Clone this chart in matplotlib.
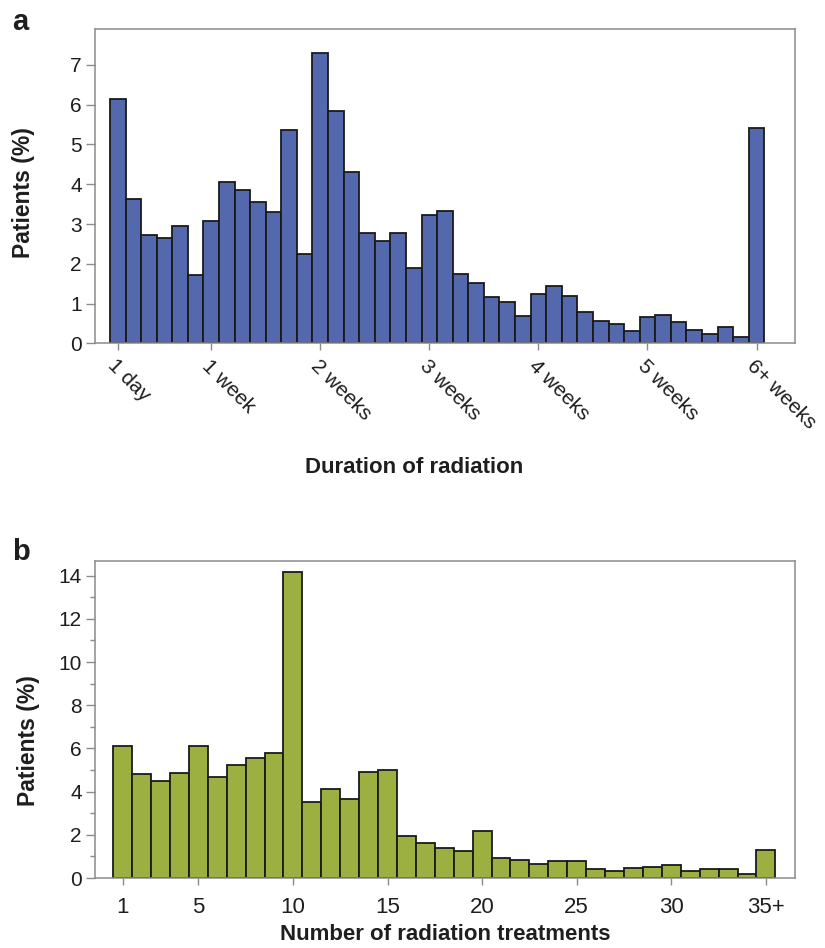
import matplotlib
matplotlib.use("Agg")
import matplotlib.pyplot as plt
from matplotlib.ticker import MultipleLocator

# ---- data ----
days = list(range(1, 43))
duration_pct = [6.14, 3.64, 2.72, 2.64, 2.96, 1.72, 3.07, 4.06, 3.86, 3.55,
                3.31, 5.36, 2.25, 7.29, 5.83, 4.31, 2.78, 2.58, 2.78, 1.90,
                3.22, 3.34, 1.75, 1.52, 1.17, 1.04, 0.70, 1.25, 1.44, 1.19,
                0.78, 0.57, 0.48, 0.32, 0.66, 0.72, 0.55, 0.34, 0.24, 0.42,
                0.17, 5.42]
duration_ticks = [1, 7, 14, 21, 28, 35, 42]
duration_labels = ["1 day", "1 week", "2 weeks", "3 weeks", "4 weeks",
                   "5 weeks", "6+ weeks"]

treatments = list(range(1, 36))
treatment_pct = [6.13, 4.82, 4.47, 4.88, 6.13, 4.68, 5.21, 5.55, 5.81, 14.19,
                 3.50, 4.11, 3.65, 4.92, 5.01, 1.96, 1.60, 1.37, 1.26, 2.16,
                 0.94, 0.82, 0.65, 0.79, 0.80, 0.40, 0.31, 0.45, 0.51, 0.59,
                 0.31, 0.43, 0.43, 0.18, 1.28]
treatment_ticks = [1, 5, 10, 15, 20, 25, 30, 35]
treatment_labels = ["1", "5", "10", "15", "20", "25", "30", "35+"]

plt.rcParams['font.family'] = ['Liberation Sans', 'DejaVu Sans']

W, H = 825, 948
fig = plt.figure(figsize=(W / 100, H / 100), dpi=100)

def ax_rect(l, t, r, b):
    return [l / W, 1 - b / H, (r - l) / W, (b - t) / H]

spine_col = "#8a8a8a"
text_col = "#1e1e1e"

def style(ax):
    for s in ax.spines.values():
        s.set_color(spine_col)
        s.set_linewidth(1.1)
    ax.tick_params(axis='both', which='both', colors=spine_col,
                   labelcolor=text_col, labelsize=15, width=1.0)
    ax.tick_params(axis='y', which='major', length=6.5, pad=3)
    ax.tick_params(axis='y', which='minor', length=3.5)
    ax.tick_params(axis='x', which='major', length=5, pad=4)

# ---- panel a ----
axa = fig.add_axes(ax_rect(95, 29, 795, 343.5))
axa.bar(days, duration_pct, width=1.0, color="#5468ae", edgecolor="#1a1a1a",
        linewidth=1.3)
axa.set_xlim(-0.46, 44.47)
axa.set_ylim(0, 7.9)
axa.set_yticks(range(0, 8))
style(axa)
axa.set_xticks(duration_ticks)
axa.set_xticklabels(duration_labels, rotation=-45, ha='left', va='top',
                    rotation_mode='anchor')
axa.set_ylabel("Patients (%)", fontsize=16.5, fontweight='bold',
               color=text_col)
axa.yaxis.set_label_coords(-0.086, 0.479)
fig.text(414 / W, 1 - 467 / H, "Duration of radiation", ha='center',
         va='center', fontsize=16, fontweight='bold', color=text_col)

# ---- panel b ----
axb = fig.add_axes(ax_rect(95, 561, 794.5, 878))
axb.bar(treatments, treatment_pct, width=1.0, color="#9bb040",
        edgecolor="#1a1a1a", linewidth=1.3)
axb.set_xlim(-0.46, 36.51)
axb.set_ylim(0, 14.68)
axb.yaxis.set_major_locator(MultipleLocator(2))
axb.yaxis.set_minor_locator(MultipleLocator(1))
style(axb)
axb.tick_params(axis='x', which='major', pad=9)
axb.set_xticks(treatment_ticks)
axb.set_xticklabels(treatment_labels)
for lab in axb.get_xticklabels():
    lab.set_fontsize(16)
axb.set_ylabel("Patients (%)", fontsize=16.5, fontweight='bold',
               color=text_col)
axb.yaxis.set_label_coords(-0.079, 0.432)
axb.set_xlabel("Number of radiation treatments", fontsize=16,
               fontweight='bold', color=text_col)
axb.xaxis.set_label_coords(0.5, -0.145)

fig.text(12 / W, 1 - 8 / H, "a", ha='left', va='top', fontsize=21,
         fontweight='bold', color=text_col)
fig.text(12 / W, 1 - 538 / H, "b", ha='left', va='top', fontsize=21,
         fontweight='bold', color=text_col)

fig.savefig("out.png", dpi=100)
